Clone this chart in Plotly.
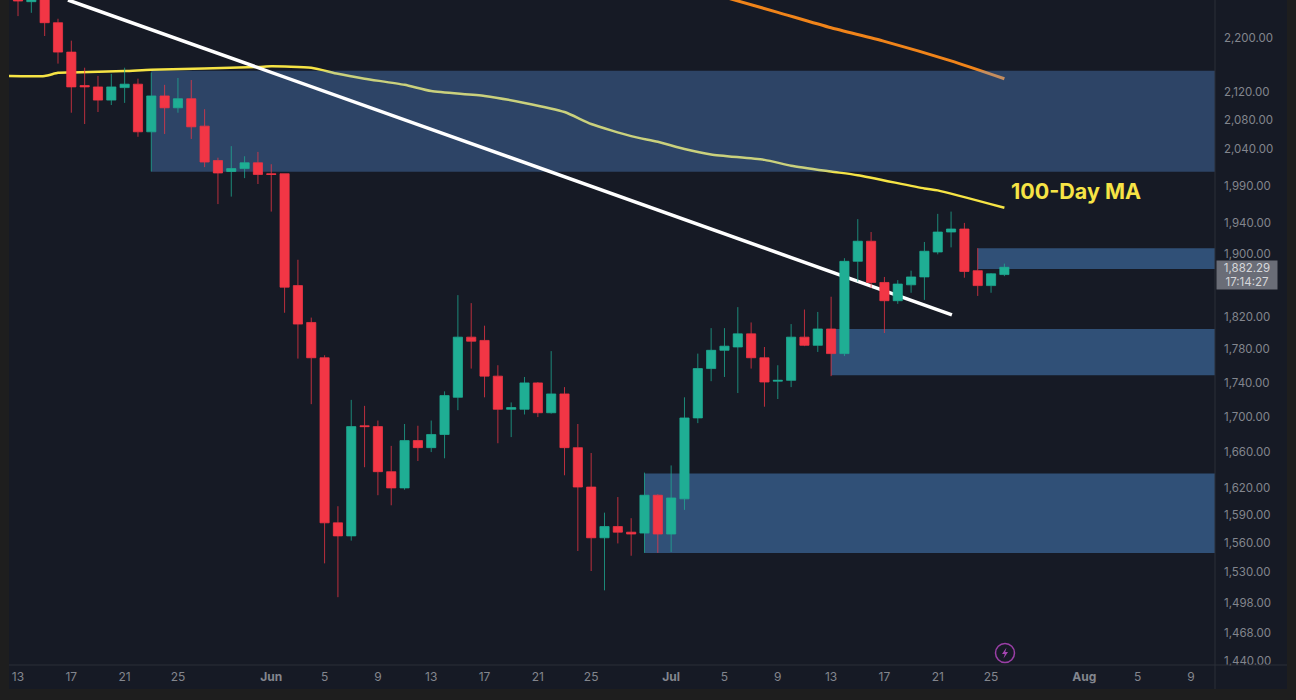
import math

import plotly.graph_objects as go

W = 1296
H = 700

#%% data
dates = ["2023-05-13", "2023-05-14", "2023-05-15", "2023-05-16", "2023-05-17", "2023-05-18", "2023-05-19",
         "2023-05-20", "2023-05-21", "2023-05-22", "2023-05-23", "2023-05-24", "2023-05-25", "2023-05-26",
         "2023-05-27", "2023-05-28", "2023-05-29", "2023-05-30", "2023-05-31", "2023-06-01", "2023-06-02",
         "2023-06-03", "2023-06-04", "2023-06-05", "2023-06-06", "2023-06-07", "2023-06-08", "2023-06-09",
         "2023-06-10", "2023-06-11", "2023-06-12", "2023-06-13", "2023-06-14", "2023-06-15", "2023-06-16",
         "2023-06-17", "2023-06-18", "2023-06-19", "2023-06-20", "2023-06-21", "2023-06-22", "2023-06-23",
         "2023-06-24", "2023-06-25", "2023-06-26", "2023-06-27", "2023-06-28", "2023-06-29", "2023-06-30",
         "2023-07-01", "2023-07-02", "2023-07-03", "2023-07-04", "2023-07-05", "2023-07-06", "2023-07-07",
         "2023-07-08", "2023-07-09", "2023-07-10", "2023-07-11", "2023-07-12", "2023-07-13", "2023-07-14",
         "2023-07-15", "2023-07-16", "2023-07-17", "2023-07-18", "2023-07-19", "2023-07-20", "2023-07-21",
         "2023-07-22", "2023-07-23", "2023-07-24", "2023-07-25", "2023-07-26"]
opens = [2262, 2255, 2262, 2223, 2179, 2130, 2128, 2109, 2127, 2132, 2064, 2115, 2098, 2111, 2072, 2024, 2009, 2013,
         2021, 2006, 2006, 1859, 1813, 1770, 1582, 1568, 1690, 1689, 1638, 1620, 1673, 1665, 1680, 1723, 1795, 1791,
         1748, 1709, 1709, 1740, 1705, 1727, 1665, 1621, 1566, 1578, 1572, 1571, 1612, 1570, 1608, 1699, 1757, 1779,
         1783, 1799, 1770, 1742, 1743, 1795, 1785, 1805, 1775, 1890, 1916, 1863, 1840, 1860, 1870, 1902, 1928, 1932,
         1878, 1859, 1873]
highs = [2267, 2265, 2267, 2229, 2196, 2156, 2144, 2147, 2156, 2140, 2149, 2131, 2141, 2138, 2096, 2028, 2044, 2030,
         2036, 2019, 2006, 1892, 1819, 1773, 1600, 1720, 1713, 1696, 1667, 1692, 1690, 1696, 1730, 1847, 1837, 1809,
         1761, 1717, 1747, 1741, 1778, 1735, 1692, 1659, 1593, 1610, 1587, 1637, 1613, 1645, 1723, 1775, 1806, 1806,
         1832, 1813, 1783, 1761, 1811, 1829, 1826, 1845, 1894, 1945, 1928, 1870, 1866, 1878, 1915, 1952, 1955, 1940,
         1907, 1875, 1887]
lows = [2233, 2238, 2203, 2162, 2091, 2075, 2092, 2102, 2105, 2057, 2009, 2061, 2091, 2054, 2015, 1965, 1975, 2000,
        1992, 1955, 1825, 1769, 1715, 1539, 1504, 1563, 1643, 1612, 1601, 1618, 1650, 1660, 1653, 1708, 1757, 1723,
        1670, 1677, 1703, 1700, 1704, 1634, 1552, 1531, 1511, 1560, 1547, 1550, 1550, 1551, 1596, 1693, 1742, 1747,
        1728, 1757, 1712, 1721, 1735, 1784, 1777, 1748, 1772, 1864, 1856, 1800, 1836, 1850, 1841, 1899, 1908, 1869,
        1846, 1850, 1871]
closes = [2256, 2261, 2223, 2179, 2128, 2128, 2109, 2128, 2132, 2064, 2115, 2098, 2111, 2071, 2022, 2007, 2013, 2021,
          2005, 2005, 1857, 1811, 1770, 1582, 1568, 1689, 1689, 1638, 1620, 1673, 1665, 1680, 1725, 1795, 1790, 1748,
          1709, 1711, 1740, 1705, 1727, 1665, 1621, 1566, 1578, 1572, 1570, 1612, 1570, 1609, 1699, 1757, 1779, 1784,
          1799, 1770, 1741, 1743, 1795, 1785, 1805, 1775, 1890, 1916, 1863, 1840, 1861, 1870, 1903, 1928, 1932, 1877,
          1859, 1874, 1882.29]

ma100_dates = ["2023-05-12", "2023-05-15", "2023-05-16", "2023-05-17", "2023-05-21", "2023-05-23", "2023-05-31",
               "2023-06-01", "2023-06-04", "2023-06-06", "2023-06-08", "2023-06-11", "2023-06-13", "2023-06-17",
               "2023-06-20", "2023-06-23", "2023-06-25", "2023-06-28", "2023-06-30", "2023-07-02", "2023-07-04",
               "2023-07-08", "2023-07-10", "2023-07-13", "2023-07-15", "2023-07-20", "2023-07-21", "2023-07-26"]
ma100_values = [2144, 2144, 2148.5, 2149, 2151, 2153, 2157, 2158, 2155.8, 2147, 2140, 2131, 2122, 2115,
                2105, 2092, 2075, 2058, 2050, 2040, 2032.5, 2025, 2017, 2009, 2004, 1986, 1983.4, 1960]

ma200_dates = ["2023-07-05", "2023-07-09", "2023-07-13", "2023-07-17", "2023-07-22", "2023-07-26"]
ma200_values = [2262, 2238.7, 2215.3, 2195, 2166, 2139.8]

trend_dates = ["2023-05-16 18:00", "2023-07-22 01:30"]
trend_values = [2257.6, 1822.4]

zone_starts = ["2023-05-23", "2023-07-24", "2023-07-13", "2023-06-29"]
zone_tops = [2151.5, 1907, 1805, 1636]
zone_bottoms = [2008.6, 1880, 1749, 1550]
zone_colors = ["rgba(100,165,255,0.30)", "rgba(93,168,255,0.38)", "rgba(93,168,255,0.38)", "rgba(93,168,255,0.38)"]

y_ticks = [2200, 2120, 2080, 2040, 1990, 1940, 1900, 1820, 1780, 1740, 1700, 1660, 1620, 1590, 1560, 1530, 1498,
           1468, 1440]
x_tick_dates = ["2023-05-13", "2023-05-17", "2023-05-21", "2023-05-25", "2023-06-01", "2023-06-05", "2023-06-09",
                "2023-06-13", "2023-06-17", "2023-06-21", "2023-06-25", "2023-07-01", "2023-07-05", "2023-07-09",
                "2023-07-13", "2023-07-17", "2023-07-21", "2023-07-25", "2023-08-01", "2023-08-05", "2023-08-09"]
x_tick_labels = ["13", "17", "21", "25", "<b>Jun</b>", "5", "9", "13", "17", "21", "25", "<b>Jul</b>", "5", "9",
                 "13", "17", "21", "25", "<b>Aug</b>", "5", "9"]

x_start = "2023-05-12 07:48"
x_end = "2023-08-10 19:12"
y_low = 1436.2
y_high = 2257.6

BG = "#161a25"
FRAME = "#1e1e1e"
GRID = "#2a2e39"
TXT = "#83868e"
FONT = "Inter, Roboto, sans-serif"
RED = "#f23645"
GREEN = "#1fae94"


#%% pixel helpers for the bits of app chrome
def px(x):
    return x / W


def py(y):
    return 1 - y / H


def chrome_rect(x0, y0, x1, y1, color, layer="below"):
    return dict(type="rect", xref="paper", yref="paper", x0=px(x0), x1=px(x1), y0=py(y0), y1=py(y1),
                fillcolor=color, line_width=0, layer=layer)


fig = go.Figure()

fig.add_trace(go.Scatter(x=ma200_dates, y=ma200_values, mode="lines",
                         line=dict(color="#f0841a", width=3, shape="spline", smoothing=0.6),
                         hoverinfo="skip", showlegend=False))
fig.add_trace(go.Scatter(x=ma100_dates, y=ma100_values, mode="lines",
                         line=dict(color="#f6e445", width=2.5, shape="spline", smoothing=0.6),
                         hoverinfo="skip", showlegend=False))

# zones sit over the moving averages, so they have to be traces and not shapes
for start, top, bottom, col in zip(zone_starts, zone_tops, zone_bottoms, zone_colors):
    fig.add_trace(go.Scatter(x=[start, x_end, x_end, start, start], y=[top, top, bottom, bottom, top],
                             mode="lines", fill="toself", fillcolor=col, line=dict(width=0),
                             hoverinfo="skip", showlegend=False))

fig.add_trace(go.Scatter(x=trend_dates, y=trend_values, mode="lines", line=dict(color="#ffffff", width=3.5),
                         hoverinfo="skip", showlegend=False))

# plotly always puts candles under scatter traces on one subplot, hence the overlaid axes
fig.add_trace(go.Candlestick(x=dates, open=opens, high=highs, low=lows, close=closes, xaxis="x2", yaxis="y2",
                             increasing=dict(line=dict(color="rgba(31,174,148,0.75)", width=1), fillcolor=GREEN),
                             decreasing=dict(line=dict(color="rgba(242,54,69,0.75)", width=1), fillcolor=RED),
                             whiskerwidth=0, showlegend=False))

x_domain = [px(9), px(1215)]
y_domain = [py(665), 1]
y_range = [math.log10(y_low), math.log10(y_high)]

fig.update_layout(
    width=W, height=H,
    margin=dict(l=0, r=0, t=0, b=0, autoexpand=False),
    paper_bgcolor=FRAME,
    plot_bgcolor=BG,
    font=dict(family=FONT, size=12, color=TXT),
    showlegend=False,
    boxgap=0.17,
    boxgroupgap=0.17,
    xaxis=dict(type="date", domain=x_domain, range=[x_start, x_end], rangeslider=dict(visible=False),
               automargin=False, showgrid=False, zeroline=False, showline=False, ticks="", tickmode="array",
               tickvals=x_tick_dates, ticktext=x_tick_labels, tickfont=dict(size=12, color=TXT),
               ticklabelstandoff=3),
    yaxis=dict(type="log", domain=y_domain, range=y_range, side="right", automargin=False,
               showgrid=False, zeroline=False, showline=False, ticks="", tickmode="array", tickvals=y_ticks,
               tickformat=",.2f", tickfont=dict(size=11.5, color=TXT), ticklabelstandoff=8),
    xaxis2=dict(type="date", domain=x_domain, range=[x_start, x_end], overlaying="x", anchor="y2", visible=False,
                rangeslider=dict(visible=False)),
    yaxis2=dict(type="log", domain=y_domain, range=y_range, overlaying="y", anchor="x2", visible=False),
    shapes=[
        chrome_rect(9, 0, 1287, 689, BG),
        # hides the lower half of the last price label, like the app does
        chrome_rect(1216, 665.5, 1287, 689, BG, layer="above"),
        dict(type="line", xref="paper", yref="paper", x0=px(9), x1=px(1287), y0=py(665), y1=py(665),
             line=dict(color=GRID, width=1), layer="above"),
        dict(type="line", xref="paper", yref="paper", x0=px(1215), x1=px(1215), y0=py(0), y1=py(689),
             line=dict(color=GRID, width=1), layer="above"),
        dict(type="circle", xref="paper", yref="paper", x0=px(995.5), x1=px(1014.5), y0=py(662.5), y1=py(643.5),
             line=dict(color="#9a3fa6", width=1.5), layer="above"),
        dict(type="path", xref="paper", yref="paper", layer="above", fillcolor="#a545b2", line_width=0,
             path="M %f %f L %f %f L %f %f L %f %f L %f %f L %f %f Z" % (
                 px(1006.5), py(647.5), px(1002), py(654), px(1004.8), py(654),
                 px(1003.5), py(658.5), px(1008), py(652), px(1005.2), py(652))),
    ],
    annotations=[
        dict(xref="paper", yref="paper", x=px(1009), y=py(191), xanchor="left", yanchor="middle", showarrow=False,
             text="<b>100-Day MA</b>", font=dict(family=FONT, size=21.5, color="#f6e445")),
        dict(xref="paper", yref="paper", x=px(1215.5), y=py(275), xanchor="left", yanchor="middle", showarrow=False,
             text="1,882.29<br>17:14:27", bgcolor="#6a6d77", width=60, height=28, borderpad=0, align="center",
             font=dict(family=FONT, size=11.5, color="#d6d7da")),
    ],
)

fig.write_html("out.html", config=dict(displayModeBar=False), post_script="document.body.style.margin='0';")
